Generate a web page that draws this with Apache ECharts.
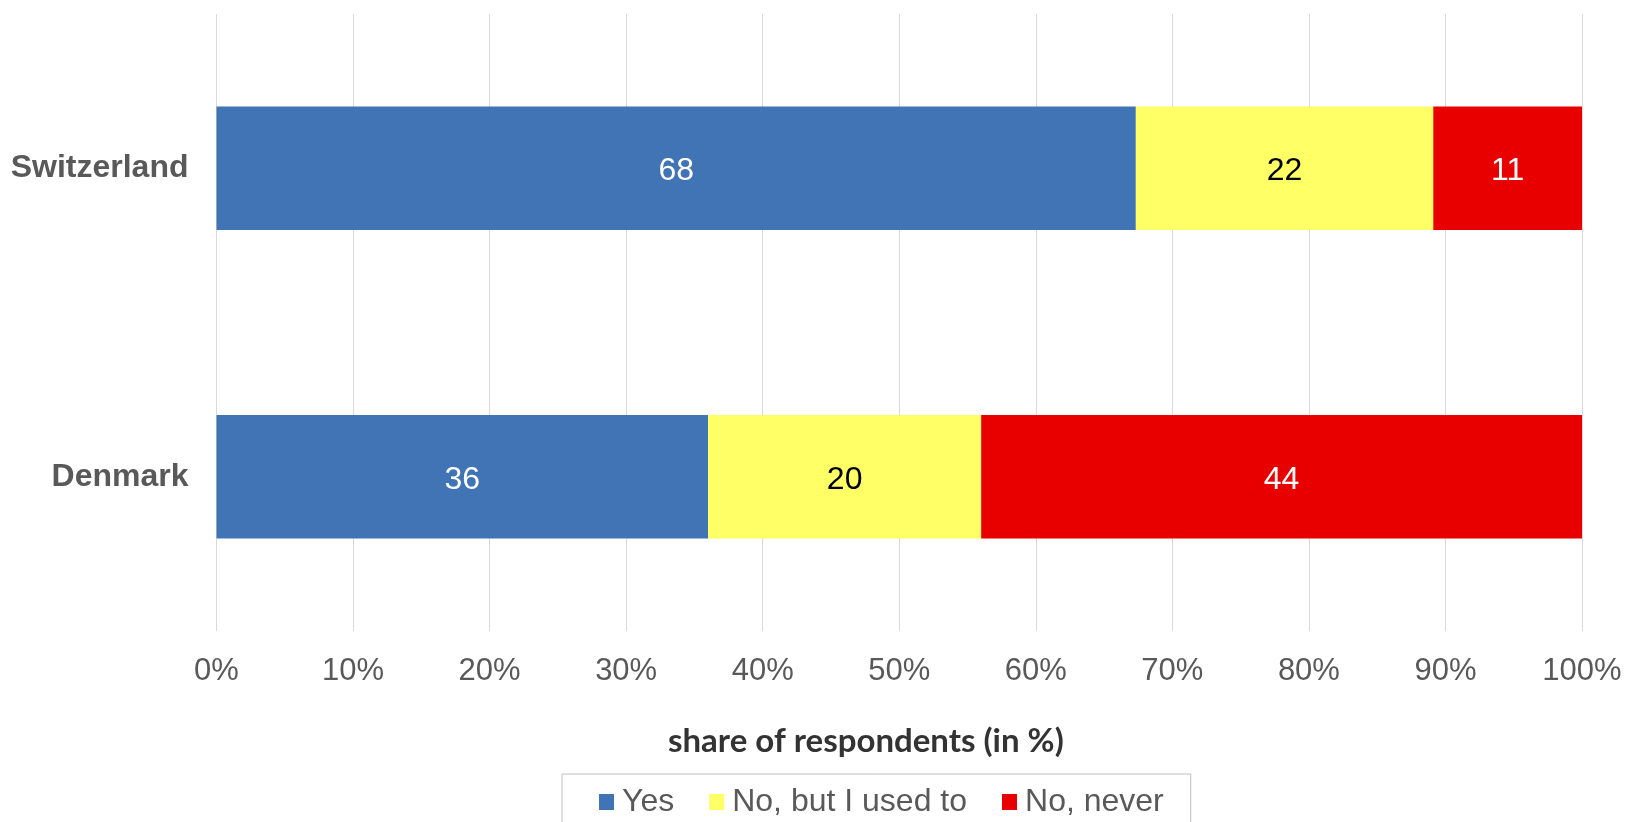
<!DOCTYPE html>
<html>
<head>
<meta charset="utf-8">
<script src="https://cdn.jsdelivr.net/npm/echarts@6/dist/echarts.min.js"></script>
<style>
html,body{margin:0;padding:0;background:#fff;}
#chart{width:1627px;height:822px;}
</style>
</head>
<body>
<div id="chart"></div>
<script>
// Data
const categories = ['Switzerland', 'Denmark'];
const seriesNames = ['Yes', 'No, but I used to', 'No, never'];
const yesValues = [68, 36];
const usedToValues = [22, 20];
const neverValues = [11, 44];
const tickLabels = ['0%', '10%', '20%', '30%', '40%', '50%', '60%', '70%', '80%', '90%', '100%'];
const axisTitle = 'share of respondents (in %)';

const colors = ['#4174b4', '#ffff66', '#e80000'];
const labelColors = ['#ffffff', '#000000', '#ffffff'];
const rawSeries = [yesValues, usedToValues, neverValues];

// 100% stacked: share of each row total
const totals = categories.map((c, i) => rawSeries.reduce((s, arr) => s + arr[i], 0));

const series = rawSeries.map((arr, si) => ({
  name: seriesNames[si],
  type: 'bar',
  stack: 'total',
  barWidth: '40%',
  itemStyle: { color: colors[si] },
  label: {
    show: true,
    position: 'inside',
    offset: [0, 3],
    color: labelColors[si],
    fontSize: 32,
    fontFamily: 'Liberation Sans, Arial, sans-serif',
    formatter: (p) => String(arr[p.dataIndex])
  },
  emphasis: { disabled: true },
  data: arr.map((v, i) => v / totals[i] * 100)
}));

const chart = echarts.init(document.getElementById('chart'));
chart.setOption({
  animation: false,
  backgroundColor: '#ffffff',
  title: {
    text: axisTitle,
    left: 668,
    top: 725,
    padding: 0,
    textStyle: {
      fontFamily: 'Lato, Carlito, sans-serif',
      fontWeight: 'bold',
      fontSize: 33,
      color: '#333333'
    }
  },
  legend: {
    data: seriesNames,
    left: 562,
    top: 774,
    orient: 'horizontal',
    itemWidth: 15,
    itemHeight: 16,
    itemGap: 35,
    padding: [12, 27, 8, 37],
    borderColor: '#bfbfbf',
    borderWidth: 1,
    icon: 'rect',
    selectedMode: false,
    textStyle: {
      fontFamily: 'Liberation Sans, Arial, sans-serif',
      fontSize: 32,
      color: '#595959',
      padding: [0, 0, 0, 3]
    }
  },
  grid: {
    left: 216.5,
    right: 45,
    top: 14,
    bottom: 191,
    containLabel: false
  },
  xAxis: {
    type: 'value',
    min: 0,
    max: 100,
    interval: 10,
    axisLine: { show: false },
    axisTick: { show: false },
    splitLine: { show: true, lineStyle: { color: '#d9d9d9', width: 1 } },
    axisLabel: {
      margin: 25,
      fontSize: 31,
      color: '#595959',
      fontFamily: 'Liberation Sans, Arial, sans-serif',
      formatter: (v) => tickLabels[Math.round(v / 10)]
    }
  },
  yAxis: {
    type: 'category',
    data: categories,
    inverse: true,
    axisLine: { show: false },
    axisTick: { show: false },
    splitLine: { show: false },
    axisLabel: {
      margin: 28,
      fontSize: 32,
      fontWeight: 'bold',
      color: '#595959',
      fontFamily: 'Liberation Sans, Arial, sans-serif'
    }
  },
  series: series
});
</script>
</body>
</html>
